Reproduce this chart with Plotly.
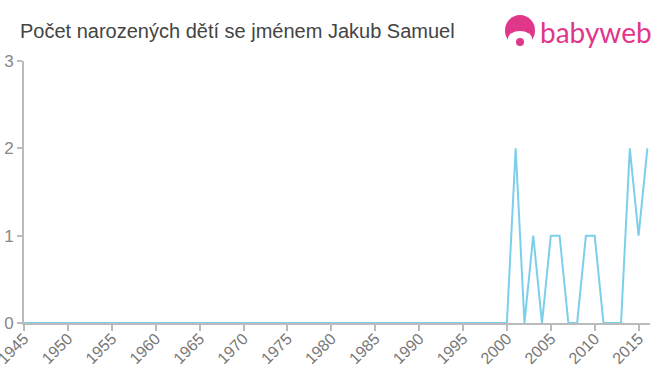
import plotly.graph_objects as go

years = list(range(1945, 2017))
counts_from_2000 = [0, 2, 0, 1, 0, 1, 1, 0, 0, 1, 1, 0, 0, 0, 2, 1, 2]
counts = [0] * (2000 - 1945) + counts_from_2000
x_ticks = list(range(1945, 2016, 5))
y_ticks = [0, 1, 2, 3]

W, H = 660, 375
ML, MR, MT, MB = 24, 10, 61, 52
PW, PH = W - ML - MR, H - MT - MB


def px(x):
    return (x - ML) / PW


def py(y):
    return 1 + (MT - y) / PH


fig = go.Figure()
fig.add_trace(go.Scatter(x=years, y=counts, mode="lines",
                         line=dict(color="#7ccfea", width=2), hoverinfo="x+y"))

fig.update_layout(
    width=W, height=H,
    margin=dict(l=ML, r=MR, t=MT, b=MB, autoexpand=False),
    paper_bgcolor="white", plot_bgcolor="white",
    showlegend=False,
    title=dict(text="Počet narozených dětí se jménem Jakub Samuel",
               x=20 / W, xanchor="left", y=1 - 31 / H, yanchor="middle",
               font=dict(family="Liberation Sans, Arial", size=20, color="#444")),
    xaxis=dict(range=[1945, 2016.3], tickvals=x_ticks, ticktext=[str(v) for v in x_ticks],
               tickangle=-45, showgrid=False, zeroline=False, automargin=False,
               ticklabeloverflow="allow", ticklabelstandoff=-8,
               showline=True, linecolor="#bbb", linewidth=2,
               ticks="outside", tickcolor="#bbb", ticklen=6, tickwidth=2,
               tickfont=dict(family="Liberation Sans, Arial", size=16, color="#777")),
    yaxis=dict(range=[0, 3], tickvals=y_ticks, showgrid=False, zeroline=False, automargin=False,
               showline=True, linecolor="#bbb", linewidth=2,
               ticks="outside", tickcolor="#bbb", ticklen=5, tickwidth=2,
               tickfont=dict(family="Liberation Sans, Arial", size=17, color="#888")),
)

pink = "#e0378a"
# logo icon
fig.add_shape(type="circle", xref="paper", yref="paper",
              x0=px(505), x1=px(535), y0=py(46), y1=py(15),
              fillcolor=pink, line=dict(width=0), layer="above")
fig.add_shape(type="circle", xref="paper", yref="paper",
              x0=px(508), x1=px(532), y0=py(47), y1=py(31),
              fillcolor="white", line=dict(width=0), layer="above")
fig.add_shape(type="circle", xref="paper", yref="paper",
              x0=px(516), x1=px(524), y0=py(46), y1=py(38),
              fillcolor=pink, line=dict(width=0), layer="above")
fig.add_annotation(text="babyweb", xref="paper", yref="paper", x=px(538), y=py(32),
                   xanchor="left", yanchor="middle", showarrow=False,
                   font=dict(family="Lato, Arial", size=28, color=pink))

fig.write_html("out.html")
